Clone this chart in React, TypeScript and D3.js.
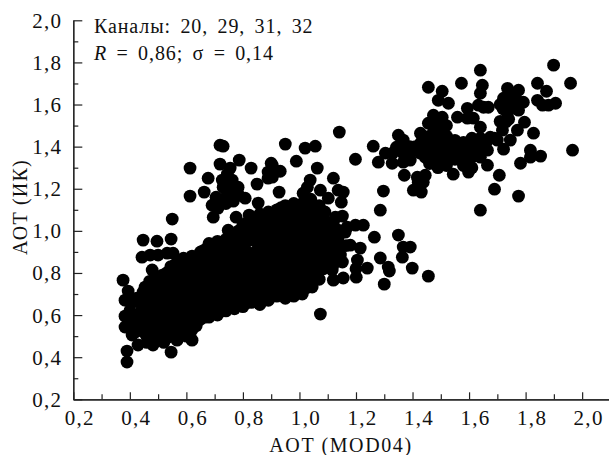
import React, { useEffect, useRef } from 'react'
import * as d3 from 'd3'

type Pt = [number, number]

const majorTicks = [0.2, 0.4, 0.6, 0.8, 1.0, 1.2, 1.4, 1.6, 1.8, 2.0]
const minorTicks = [0.3, 0.5, 0.7, 0.9, 1.1, 1.3, 1.5, 1.7, 1.9]
const legendChannels = 'Каналы: 20, 29, 31, 32'
const xTitle = 'AOT (MOD04)'
const yTitle = 'АОТ (ИК)'

// left edge of the low cloud and the points sticking out of it
const lowLeftEdge: Pt[] = [
  [0.376, 0.766], [0.394, 0.714], [0.383, 0.671], [0.411, 0.662], [0.383, 0.595], [0.383, 0.543],
  [0.408, 0.505], [0.429, 0.458], [0.39, 0.429], [0.39, 0.377], [0.447, 0.956], [0.496, 0.951],
  [0.546, 0.961], [0.443, 0.875], [0.472, 0.885], [0.5, 0.885], [0.532, 0.894], [0.553, 0.894],
  [0.479, 0.814], [0.546, 0.424], [0.482, 0.458], [0.567, 0.481], [0.62, 0.481], [0.454, 0.733],
  [0.447, 0.709], [0.4, 0.62], [0.41, 0.57], [0.42, 0.52], [0.46, 0.47], [0.52, 0.47], [0.6, 0.5],
]

// solid body of the low cloud, read column by column
const denseColumns: Pt[] = [
  [0.44, 0.66], [0.44, 0.62], [0.44, 0.57], [0.44, 0.53],
  [0.47, 0.76], [0.47, 0.71], [0.47, 0.67], [0.47, 0.62], [0.47, 0.58], [0.47, 0.53], [0.47, 0.49],
  [0.5, 0.78], [0.5, 0.74], [0.5, 0.7], [0.5, 0.65], [0.5, 0.61], [0.5, 0.56], [0.5, 0.52], [0.5, 0.49],
  [0.53, 0.8], [0.53, 0.76], [0.53, 0.71], [0.53, 0.67], [0.53, 0.62], [0.53, 0.58], [0.53, 0.53], [0.53, 0.49],
  [0.56, 0.84], [0.56, 0.8], [0.56, 0.75], [0.56, 0.71], [0.56, 0.66], [0.56, 0.62], [0.56, 0.57], [0.56, 0.53], [0.56, 0.5],
  [0.59, 0.87], [0.59, 0.83], [0.59, 0.78], [0.59, 0.74], [0.59, 0.69], [0.59, 0.65], [0.59, 0.6], [0.59, 0.56], [0.59, 0.52],
  [0.62, 0.88], [0.62, 0.84], [0.62, 0.79], [0.62, 0.75], [0.62, 0.7], [0.62, 0.66], [0.62, 0.61], [0.62, 0.57], [0.62, 0.53],
  [0.65, 0.9], [0.65, 0.87], [0.65, 0.83], [0.65, 0.78], [0.65, 0.74], [0.65, 0.69], [0.65, 0.65], [0.65, 0.6], [0.65, 0.58],
  [0.68, 0.94], [0.68, 0.89], [0.68, 0.85], [0.68, 0.8], [0.68, 0.76], [0.68, 0.71], [0.68, 0.67], [0.68, 0.62], [0.68, 0.59],
  [0.71, 0.95], [0.71, 0.91], [0.71, 0.86], [0.71, 0.82], [0.71, 0.77], [0.71, 0.73], [0.71, 0.68], [0.71, 0.64], [0.71, 0.6],
  [0.74, 0.96], [0.74, 0.93], [0.74, 0.88], [0.74, 0.84], [0.74, 0.79], [0.74, 0.75], [0.74, 0.7], [0.74, 0.66], [0.74, 0.62],
  [0.77, 0.98], [0.77, 0.94], [0.77, 0.89], [0.77, 0.85], [0.77, 0.8], [0.77, 0.76], [0.77, 0.71], [0.77, 0.67], [0.77, 0.63],
  [0.8, 1.03], [0.8, 0.98], [0.8, 0.93], [0.8, 0.87], [0.8, 0.82], [0.8, 0.78], [0.8, 0.73], [0.8, 0.69], [0.8, 0.64],
  [0.83, 1.06], [0.83, 1.01], [0.83, 0.96], [0.83, 0.89], [0.83, 0.84], [0.83, 0.8], [0.83, 0.75], [0.83, 0.71], [0.83, 0.66],
  [0.86, 1.08], [0.86, 1.03], [0.86, 0.97], [0.86, 0.92], [0.86, 0.88], [0.86, 0.83], [0.86, 0.79], [0.86, 0.74], [0.86, 0.7], [0.86, 0.65],
  [0.89, 1.09], [0.89, 1.03], [0.89, 0.99], [0.89, 0.94], [0.89, 0.9], [0.89, 0.85], [0.89, 0.81], [0.89, 0.76], [0.89, 0.72], [0.89, 0.67],
  [0.92, 1.1], [0.92, 1.06], [0.92, 1.01], [0.92, 0.97], [0.92, 0.92], [0.92, 0.88], [0.92, 0.83], [0.92, 0.79], [0.92, 0.74], [0.92, 0.69],
  [0.95, 1.12], [0.95, 1.08], [0.95, 1.03], [0.95, 0.99], [0.95, 0.94], [0.95, 0.9], [0.95, 0.85], [0.95, 0.81], [0.95, 0.76], [0.95, 0.71], [0.95, 0.68],
  [0.98, 1.13], [0.98, 1.09], [0.98, 1.05], [0.98, 1.0], [0.98, 0.96], [0.98, 0.91], [0.98, 0.87], [0.98, 0.82], [0.98, 0.78], [0.98, 0.73], [0.98, 0.69],
  [1.01, 1.13], [1.01, 1.1], [1.01, 1.06], [1.01, 1.01], [1.01, 0.97], [1.01, 0.92], [1.01, 0.88], [1.01, 0.83], [1.01, 0.79], [1.01, 0.74], [1.01, 0.7],
  [1.04, 1.11], [1.04, 1.07], [1.04, 1.02], [1.04, 0.98], [1.04, 0.93], [1.04, 0.89], [1.04, 0.84], [1.04, 0.8], [1.04, 0.75],
  [1.07, 1.08], [1.07, 1.04], [1.07, 0.99], [1.07, 0.95], [1.07, 0.9], [1.07, 0.86], [1.07, 0.81], [1.07, 0.77],
  [1.1, 1.02], [1.1, 0.98], [1.1, 0.93], [1.1, 0.89], [1.1, 0.85],
  [1.13, 0.96], [1.13, 0.91], [1.13, 0.87],
]

// second pass over the same body, between the columns above
const denseInfill: Pt[] = [
  [0.425, 0.68], [0.425, 0.6], [0.425, 0.55],
  [0.455, 0.68], [0.455, 0.64], [0.455, 0.6], [0.455, 0.55], [0.455, 0.51],
  [0.485, 0.77], [0.485, 0.73], [0.485, 0.69], [0.485, 0.64], [0.485, 0.6], [0.485, 0.55], [0.485, 0.51],
  [0.515, 0.79], [0.515, 0.72], [0.515, 0.68], [0.515, 0.63], [0.515, 0.59], [0.515, 0.54], [0.515, 0.5],
  [0.545, 0.83], [0.545, 0.78], [0.545, 0.73], [0.545, 0.69], [0.545, 0.64], [0.545, 0.6], [0.545, 0.55], [0.545, 0.51],
  [0.575, 0.86], [0.575, 0.81], [0.575, 0.76], [0.575, 0.72], [0.575, 0.67], [0.575, 0.63], [0.575, 0.58], [0.575, 0.54],
  [0.605, 0.86], [0.605, 0.81], [0.605, 0.77], [0.605, 0.72], [0.605, 0.68], [0.605, 0.63], [0.605, 0.59], [0.605, 0.55],
  [0.635, 0.85], [0.635, 0.81], [0.635, 0.76], [0.635, 0.72], [0.635, 0.67], [0.635, 0.63], [0.635, 0.59], [0.635, 0.55],
  [0.665, 0.91], [0.665, 0.85], [0.665, 0.81], [0.665, 0.76], [0.665, 0.72], [0.665, 0.67], [0.665, 0.63], [0.665, 0.59],
  [0.695, 0.93], [0.695, 0.88], [0.695, 0.83], [0.695, 0.79], [0.695, 0.74], [0.695, 0.7], [0.695, 0.66], [0.695, 0.61],
  [0.725, 0.94], [0.725, 0.89], [0.725, 0.84], [0.725, 0.8], [0.725, 0.75], [0.725, 0.71], [0.725, 0.66], [0.725, 0.62],
  [0.755, 0.96], [0.755, 0.91], [0.755, 0.86], [0.755, 0.82], [0.755, 0.77], [0.755, 0.73], [0.755, 0.68], [0.755, 0.64],
  [0.785, 1.0], [0.785, 0.96], [0.785, 0.91], [0.785, 0.87], [0.785, 0.82], [0.785, 0.78], [0.785, 0.73], [0.785, 0.69], [0.785, 0.65],
  [0.815, 1.04], [0.815, 0.99], [0.815, 0.95], [0.815, 0.9], [0.815, 0.85], [0.815, 0.8], [0.815, 0.76], [0.815, 0.71], [0.815, 0.66],
  [0.845, 1.05], [0.845, 1.0], [0.845, 0.95], [0.845, 0.9], [0.845, 0.86], [0.845, 0.81], [0.845, 0.77], [0.845, 0.72], [0.845, 0.68],
  [0.875, 1.06], [0.875, 1.01], [0.875, 0.96], [0.875, 0.92], [0.875, 0.87], [0.875, 0.83], [0.875, 0.78], [0.875, 0.74], [0.875, 0.69],
  [0.905, 1.08], [0.905, 1.04], [0.905, 0.99], [0.905, 0.95], [0.905, 0.9], [0.905, 0.86], [0.905, 0.81], [0.905, 0.77], [0.905, 0.71],
  [0.935, 1.11], [0.935, 1.06], [0.935, 1.02], [0.935, 0.97], [0.935, 0.93], [0.935, 0.88], [0.935, 0.84], [0.935, 0.79], [0.935, 0.73],
  [0.965, 1.1], [0.965, 1.06], [0.965, 1.02], [0.965, 0.97], [0.965, 0.93], [0.965, 0.88], [0.965, 0.84], [0.965, 0.79], [0.965, 0.74], [0.965, 0.7],
  [0.995, 1.11], [0.995, 1.07], [0.995, 1.03], [0.995, 0.98], [0.995, 0.94], [0.995, 0.89], [0.995, 0.85], [0.995, 0.8], [0.995, 0.75], [0.995, 0.71],
  [1.025, 1.09], [1.025, 1.04], [1.025, 1.0], [1.025, 0.95], [1.025, 0.91], [1.025, 0.86], [1.025, 0.82], [1.025, 0.77], [1.025, 0.73],
  [1.055, 1.05], [1.055, 1.01], [1.055, 0.96], [1.055, 0.92], [1.055, 0.87], [1.055, 0.83], [1.055, 0.78],
  [1.085, 1.05], [1.085, 1.0], [1.085, 0.96], [1.085, 0.91], [1.085, 0.87], [1.085, 0.82],
  [1.115, 1.0], [1.115, 0.95], [1.115, 0.9], [1.115, 0.86],
]

const upperScatter: Pt[] = [
  [0.719, 1.407], [0.73, 1.402], [0.95, 1.412], [0.787, 1.336], [0.613, 1.298], [0.719, 1.317],
  [0.755, 1.298], [0.829, 1.298], [0.9, 1.321], [0.889, 1.279], [0.889, 1.25], [0.932, 1.283],
  [0.989, 1.331], [0.677, 1.25], [0.727, 1.241], [0.762, 1.241], [0.73, 1.207], [0.783, 1.207],
  [0.85, 1.222], [0.613, 1.165], [0.663, 1.184], [0.928, 1.184], [0.748, 1.193], [0.766, 1.179],
  [0.808, 1.155], [0.766, 1.141], [0.719, 1.136], [0.691, 1.122], [0.695, 1.065], [0.854, 1.132],
  [0.776, 1.065], [0.748, 1.003], [0.822, 1.075], [0.712, 1.108], [0.55, 1.056], [0.904, 1.312],
  [0.904, 1.255], [0.745, 1.27], [0.745, 1.22], [0.74, 1.16], [0.785, 1.17], [0.705, 1.16],
  [0.74, 1.13], [0.765, 1.21],
]

// strands and single points right of the low cloud
const rightScatter: Pt[] = [
  [1.12, 1.25], [1.137, 1.193], [1.155, 1.184], [1.148, 1.136], [1.102, 1.155], [1.074, 1.193],
  [1.038, 1.241], [1.028, 1.207], [1.013, 1.179], [1.063, 1.298], [1.02, 1.393], [1.056, 1.402],
  [1.141, 1.469], [1.198, 1.34], [1.226, 1.027], [1.198, 1.027], [1.169, 1.018], [1.137, 1.003],
  [1.137, 0.97], [1.152, 1.07], [1.127, 1.065], [1.265, 0.97], [1.35, 0.98], [1.392, 0.923],
  [1.367, 0.923], [1.364, 0.875], [1.399, 0.823], [1.456, 0.785], [1.286, 0.871], [1.314, 0.828],
  [1.318, 0.809], [1.3, 0.747], [1.24, 0.823], [1.205, 0.861], [1.201, 0.78], [1.155, 0.776],
  [1.12, 0.766], [1.116, 0.814], [1.215, 0.918], [1.18, 0.932], [1.152, 0.852], [1.045, 0.733],
  [1.074, 0.605], [1.162, 0.994], [1.145, 0.885], [1.297, 1.189], [1.286, 1.098], [1.04, 1.15],
  [1.07, 1.12], [1.09, 1.09], [1.12, 1.04], [1.14, 0.93], [1.165, 0.93], [1.12, 0.84], [1.2, 0.82],
]

const upperRightCloud: Pt[] = [
  [1.64, 1.763], [1.899, 1.787], [1.959, 1.701], [1.842, 1.701], [1.874, 1.663], [1.573, 1.701],
  [1.456, 1.682], [1.505, 1.663], [1.647, 1.692], [1.64, 1.654], [1.491, 1.62], [1.527, 1.606],
  [1.651, 1.587], [1.633, 1.597], [1.668, 1.587], [1.736, 1.677], [1.775, 1.668], [1.722, 1.63],
  [1.792, 1.611], [1.757, 1.62], [1.746, 1.587], [1.775, 1.573], [1.842, 1.62], [1.86, 1.597],
  [1.881, 1.597], [1.906, 1.606], [1.736, 1.559], [1.729, 1.516], [1.718, 1.478], [1.796, 1.516],
  [1.828, 1.464], [1.771, 1.478], [1.746, 1.431], [1.722, 1.388], [1.7, 1.431], [1.675, 1.445],
  [1.966, 1.383], [1.853, 1.355], [1.817, 1.383], [1.817, 1.35], [1.782, 1.321], [1.707, 1.264],
  [1.69, 1.198], [1.775, 1.165], [1.64, 1.098], [1.665, 1.312], [1.665, 1.383], [1.598, 1.279],
  [1.544, 1.269], [1.474, 1.549], [1.456, 1.511], [1.505, 1.54], [1.428, 1.464], [1.559, 1.54],
  [1.594, 1.582], [1.594, 1.535], [1.615, 1.535], [1.64, 1.492], [1.73, 1.6], [1.71, 1.52],
  [1.261, 1.402], [1.304, 1.369], [1.279, 1.326], [1.328, 1.321], [1.35, 1.454], [1.367, 1.431],
  [1.343, 1.397], [1.367, 1.369], [1.367, 1.326], [1.392, 1.336], [1.403, 1.383], [1.428, 1.369],
  [1.371, 1.264], [1.417, 1.255], [1.445, 1.264], [1.438, 1.231], [1.403, 1.193], [1.431, 1.184],
  [1.42, 1.231], [1.33, 1.37], [1.39, 1.4], [1.36, 1.4],
  [1.46, 1.45], [1.46, 1.4], [1.46, 1.36], [1.46, 1.32], [1.49, 1.52], [1.49, 1.47], [1.49, 1.43],
  [1.49, 1.38], [1.49, 1.34], [1.49, 1.3], [1.52, 1.5], [1.52, 1.45], [1.52, 1.41], [1.52, 1.36],
  [1.52, 1.31], [1.55, 1.43], [1.55, 1.39], [1.55, 1.34], [1.43, 1.42], [1.43, 1.38],
  [1.475, 1.49], [1.475, 1.42], [1.475, 1.35], [1.505, 1.45], [1.505, 1.4], [1.505, 1.33], [1.535, 1.42],
  [1.535, 1.36], [1.445, 1.41], [1.445, 1.35], [1.41, 1.4], [1.56, 1.41], [1.57, 1.36],
  [1.58, 1.42], [1.58, 1.38], [1.61, 1.44], [1.61, 1.4], [1.61, 1.35], [1.64, 1.44], [1.64, 1.4],
  [1.64, 1.35], [1.58, 1.31], [1.61, 1.3], [1.69, 1.44], [1.595, 1.41], [1.625, 1.37], [1.625, 1.42],
  [1.595, 1.35], [1.66, 1.42], [1.74, 1.61], [1.76, 1.64], [1.72, 1.58], [1.74, 1.53], [1.78, 1.61],
  [1.75, 1.65], [1.71, 1.6], [1.76, 1.6],
]

const allPoints: Pt[] = [
  ...lowLeftEdge, ...denseColumns, ...denseInfill, ...upperScatter, ...rightScatter, ...upperRightCloud,
]

const fmt = (d: any) => d3.format('.1f')(d).replace('.', ',')

const App = () => {
  const ref = useRef<SVGSVGElement>(null)

  useEffect(() => {
    const svg = d3.select(ref.current)
    svg.selectAll('*').remove()

    // the bottom axis runs on past 2,0 to the edge of the picture
    const xScale = d3.scaleLinear().domain([0.2, 2.095]).range([73.3, 609])
    const yScale = d3.scaleLinear().domain([0.2, 2.0]).range([399.3, 20.3])

    svg.append('g')
      .selectAll('circle')
      .data(allPoints)
      .join('circle')
      .attr('cx', d => xScale(d[0]))
      .attr('cy', d => yScale(d[1]))
      .attr('r', 6.4)
      .attr('fill', 'black')

    const xAxis = svg.append('g')
      .attr('transform', 'translate(0,399.3)')
      .call(d3.axisBottom(xScale).tickValues(majorTicks).tickSize(-7).tickSizeOuter(0).tickFormat(fmt))
    xAxis.append('g')
      .call(d3.axisBottom(xScale).tickValues(minorTicks).tickSize(-5).tickSizeOuter(0).tickFormat(() => ''))

    const yAxis = svg.append('g')
      .attr('transform', 'translate(73.3,0)')
      .call(d3.axisLeft(yScale).tickValues(majorTicks).tickSize(-9).tickSizeOuter(0).tickFormat(fmt))
    yAxis.append('g')
      .call(d3.axisLeft(yScale).tickValues(minorTicks).tickSize(-5).tickSizeOuter(0).tickFormat(() => ''))

    svg.selectAll('.domain, .tick line').attr('stroke', '#222').attr('stroke-width', 1.2)

    xAxis.selectAll('.tick text')
      .attr('x', 6)
      .attr('y', 25.5)
      .attr('dy', 0)
    yAxis.selectAll('.tick text')
      .attr('x', -11)
      .attr('y', 7)
      .attr('dy', 0)

    svg.selectAll('.tick text')
      .attr('fill', '#111')
      .style('font-family', '"Liberation Serif"')
      .style('font-size', '21px')
      .style('letter-spacing', '1.3px')

    const label = (x: number, y: number) => svg.append('text')
      .attr('x', x)
      .attr('y', y)
      .attr('fill', '#111')
      .style('font-family', '"Liberation Serif"')
      .style('font-size', '20px')

    label(341, 452)
      .style('text-anchor', 'middle')
      .style('letter-spacing', '1.6px')
      .text(xTitle)

    label(0, 0)
      .attr('x', null)
      .attr('y', null)
      .attr('transform', 'translate(27,207) rotate(-90)')
      .style('text-anchor', 'middle')
      .style('letter-spacing', '1.2px')
      .text(yTitle)

    label(94, 33)
      .style('word-spacing', '3.5px')
      .style('letter-spacing', '0.9px')
      .text(legendChannels)

    const stats = label(94, 60).style('letter-spacing', '0.9px').style('word-spacing', '3.5px')
    stats.append('tspan').style('font-style', 'italic').text('R')
    stats.append('tspan').text(' = 0,86; σ = 0,14')
  }, [])

  return (
    <svg
      ref={ref}
      width={609}
      height={455}
      style={{ position: 'absolute', left: 0, top: 0, background: 'white' }}
    />
  )
}

export default App
